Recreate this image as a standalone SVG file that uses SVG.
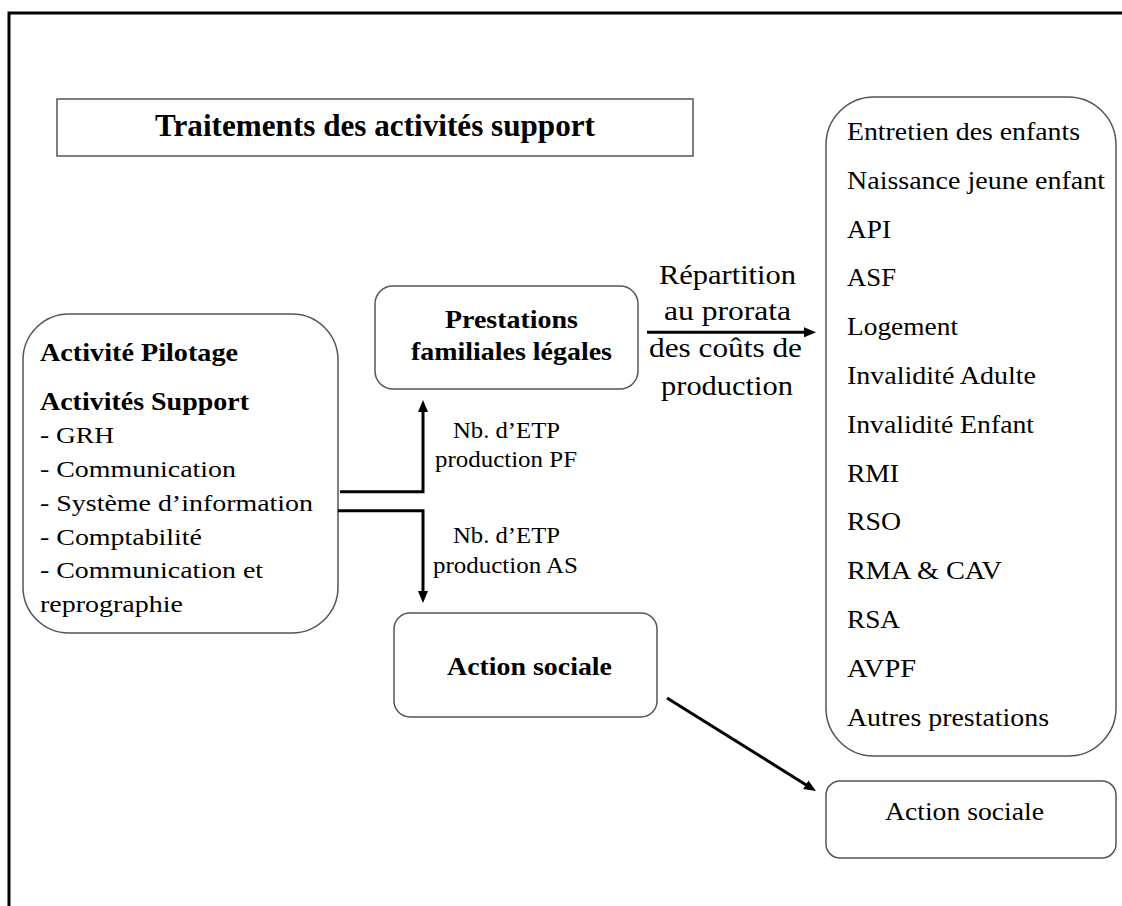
<svg xmlns="http://www.w3.org/2000/svg" width="1122" height="906" viewBox="0 0 1122 906">
  <style>
    .box { fill: #ffffff; stroke: #555555; stroke-width: 1.5; }
    .frame { fill: none; stroke: #000000; stroke-width: 3; }
    .link { fill: none; stroke: #000000; stroke-width: 3; }
    text { font-family: "Liberation Serif", "Times New Roman", serif; fill: #000000; }
    .b { font-weight: bold; }
    .mid { text-anchor: middle; }
  </style>
  <defs>
    <marker id="head" viewBox="0 0 12 10" markerWidth="12" markerHeight="10" refX="2" refY="5" orient="auto" markerUnits="userSpaceOnUse">
      <path d="M0,0 L12,5 L0,10 z" fill="#000000"/>
    </marker>
  </defs>

  <rect width="1122" height="906" fill="#ffffff"/>
  <!-- page frame (right and bottom edges fall outside the view) -->
  <rect class="frame" x="9" y="13" width="1125" height="905"/>

  <g id="title">
    <rect class="box" x="57" y="99" width="636" height="57"/>
    <text class="b" x="155" y="135.5" font-size="31" textLength="440" lengthAdjust="spacingAndGlyphs">Traitements des activités support</text>
  </g>

  <g id="support">
    <rect class="box" x="23" y="314" width="315" height="319" rx="46" ry="46"/>
    <text class="b" x="40" y="361" font-size="25" textLength="198" lengthAdjust="spacingAndGlyphs">Activité Pilotage</text>
    <text class="b" x="40" y="410" font-size="25" textLength="209" lengthAdjust="spacingAndGlyphs">Activités Support</text>
    <text x="40" y="443" font-size="24" textLength="74" lengthAdjust="spacingAndGlyphs">- GRH</text>
    <text x="40" y="477" font-size="24" textLength="196" lengthAdjust="spacingAndGlyphs">- Communication</text>
    <text x="40" y="511" font-size="24" textLength="273" lengthAdjust="spacingAndGlyphs">- Système d’information</text>
    <text x="40" y="545" font-size="24" textLength="162" lengthAdjust="spacingAndGlyphs">- Comptabilité</text>
    <text x="40" y="578" font-size="24" textLength="223" lengthAdjust="spacingAndGlyphs">- Communication et</text>
    <text x="40" y="612" font-size="24" textLength="143" lengthAdjust="spacingAndGlyphs">reprographie</text>
  </g>

  <g id="pf">
    <rect class="box" x="375" y="286" width="263" height="103" rx="18" ry="18"/>
    <text class="b" x="445" y="327.5" font-size="26" textLength="133" lengthAdjust="spacingAndGlyphs">Prestations</text>
    <text class="b" x="411" y="360" font-size="26" textLength="201" lengthAdjust="spacingAndGlyphs">familiales légales</text>
  </g>

  <g id="as">
    <rect class="box" x="394" y="613" width="263" height="104" rx="16" ry="16"/>
    <text class="b" x="447" y="675" font-size="26" textLength="165" lengthAdjust="spacingAndGlyphs">Action sociale</text>
  </g>

  <g id="prestations">
    <rect class="box" x="826" y="97" width="290" height="659" rx="48" ry="48"/>
    <text x="847" y="140" font-size="25" textLength="233" lengthAdjust="spacingAndGlyphs">Entretien des enfants</text>
    <text x="847" y="188.8" font-size="25" textLength="258" lengthAdjust="spacingAndGlyphs">Naissance jeune enfant</text>
    <text x="847" y="237.6" font-size="25" textLength="44" lengthAdjust="spacingAndGlyphs">API</text>
    <text x="847" y="286.4" font-size="25" textLength="49" lengthAdjust="spacingAndGlyphs">ASF</text>
    <text x="847" y="335.2" font-size="25" textLength="111" lengthAdjust="spacingAndGlyphs">Logement</text>
    <text x="847" y="384" font-size="25" textLength="189" lengthAdjust="spacingAndGlyphs">Invalidité Adulte</text>
    <text x="847" y="432.8" font-size="25" textLength="187" lengthAdjust="spacingAndGlyphs">Invalidité Enfant</text>
    <text x="847" y="481.6" font-size="25" textLength="52" lengthAdjust="spacingAndGlyphs">RMI</text>
    <text x="847" y="530.4" font-size="25" textLength="54" lengthAdjust="spacingAndGlyphs">RSO</text>
    <text x="847" y="579.2" font-size="25" textLength="155" lengthAdjust="spacingAndGlyphs">RMA &amp; CAV</text>
    <text x="847" y="628" font-size="25" textLength="53" lengthAdjust="spacingAndGlyphs">RSA</text>
    <text x="847" y="676.8" font-size="25" textLength="69" lengthAdjust="spacingAndGlyphs">AVPF</text>
    <text x="847" y="725.6" font-size="25" textLength="202" lengthAdjust="spacingAndGlyphs">Autres prestations</text>
  </g>

  <g id="as-target">
    <rect class="box" x="826" y="781" width="290" height="77" rx="14" ry="14"/>
    <text x="885" y="820" font-size="25" textLength="159" lengthAdjust="spacingAndGlyphs">Action sociale</text>
  </g>

  <g id="connectors">
    <path class="link" d="M340,491.7 H423 V410" marker-end="url(#head)"/>
    <path class="link" d="M338,510.7 H423 V593" marker-end="url(#head)"/>
    <path class="link" d="M647,332.3 H806" marker-end="url(#head)"/>
    <path class="link" d="M667,698 L807.5,785.7" marker-end="url(#head)"/>
  </g>

  <g id="labels">
    <text x="453" y="437.7" font-size="23" textLength="107" lengthAdjust="spacingAndGlyphs">Nb. d’ETP</text>
    <text x="435" y="466.7" font-size="23" textLength="142" lengthAdjust="spacingAndGlyphs">production PF</text>
    <text x="453" y="543.3" font-size="23" textLength="107" lengthAdjust="spacingAndGlyphs">Nb. d’ETP</text>
    <text x="433" y="572.7" font-size="23" textLength="145" lengthAdjust="spacingAndGlyphs">production AS</text>
    <text x="659" y="284.3" font-size="27" textLength="137" lengthAdjust="spacingAndGlyphs">Répartition</text>
    <text x="664" y="320" font-size="27" textLength="127" lengthAdjust="spacingAndGlyphs">au prorata</text>
    <text x="649" y="356.7" font-size="27" textLength="153" lengthAdjust="spacingAndGlyphs">des coûts de</text>
    <text x="661" y="394.5" font-size="27" textLength="132" lengthAdjust="spacingAndGlyphs">production</text>
  </g>
</svg>
